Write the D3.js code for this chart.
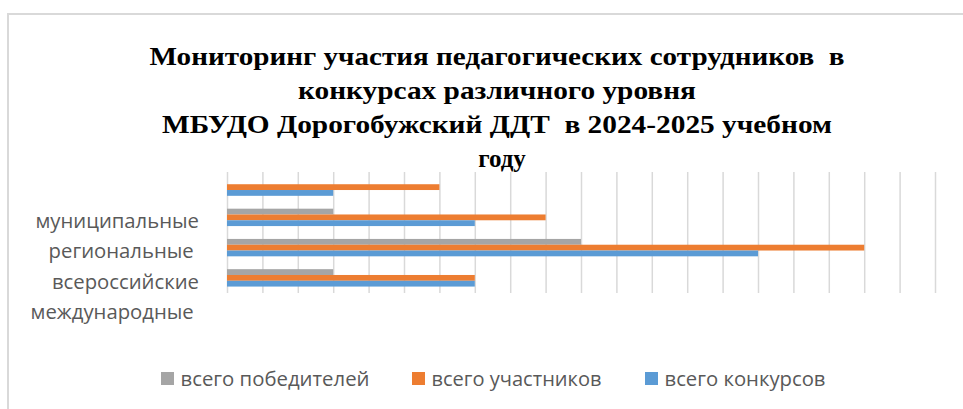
<!DOCTYPE html>
<html><head><meta charset="utf-8">
<script src="https://cdn.jsdelivr.net/npm/d3@7/dist/d3.min.js"></script>
<style>body{margin:0;background:#fff}svg{display:block}text{white-space:pre}</style>
</head><body><svg id="c" width="963" height="409"></svg>
<script>
const titleLines = ["Мониторинг участия педагогических сотрудников  в", "конкурсах различного уровня", "МБУДО Дорогобужский ДДТ  в 2024-2025 учебном", "году"];
const categories = ["муниципальные", "региональные ", "всероссийские", "международные "];
const seriesNames = ["всего победителей", "всего участников", "всего конкурсов"];
const winners = [0, 3, 10, 3];
const participants = [6, 9, 18, 7];
const contests = [3, 7, 15, 7];
const xMax = 20;
const seriesColors = ["#A5A5A5", "#ED7D31", "#5B9BD5"];

const series = [winners, participants, contests];
const svg = d3.select("#c");

// chart border
svg.append("rect").attr("x", 8).attr("y", 14).attr("width", 1000).attr("height", 500)
  .attr("fill", "none").attr("stroke", "#D9D9D9").attr("stroke-width", 2);

// title
const titleY = [65, 99, 133, 167];
const titleW = [695, 398, 670, null];
const titleX = [497, 497, 497, 502];
titleLines.forEach((t, i) => {
  const el = svg.append("text").attr("x", titleX[i]).attr("y", titleY[i])
    .attr("text-anchor", "middle")
    .style("font-family", "'Liberation Serif','Times New Roman',serif")
    .style("font-weight", "bold").style("font-size", "25px").attr("fill", "#000").text(t);
  if (titleW[i]) el.attr("textLength", titleW[i]).attr("lengthAdjust", "spacingAndGlyphs");
});

const x = d3.scaleLinear().domain([0, xMax]).range([227, 935]);
const y = d3.scaleBand().domain(categories).range([172, 293]).paddingInner(0.425).paddingOuter(0.2125);
const ySub = d3.scaleBand().domain(seriesNames).range([0, y.bandwidth()]);

// gridlines
const grid = svg.append("g").attr("transform", "translate(0,293)")
  .call(d3.axisBottom(x).ticks(xMax).tickSize(-121).tickFormat(""));
grid.select(".domain").remove();
grid.selectAll("line").attr("stroke", "#D9D9D9").attr("stroke-width", 1.5);

// bars
seriesNames.forEach((s, si) => {
  svg.append("g").selectAll("rect").data(categories).join("rect")
    .attr("x", x(0))
    .attr("y", (c) => y(c) + ySub(s))
    .attr("width", (c, i) => x(series[si][i]) - x(0))
    .attr("height", ySub.bandwidth())
    .attr("fill", seriesColors[si]);
});

// category labels (as drawn in the reference: shifted one band down)
svg.append("g").selectAll("text").data(categories).join("text")
  .attr("x", 199)
  .attr("y", (c) => y(c) + y.bandwidth() / 2 + y.step() + 10.8)
  .attr("text-anchor", "end")
  .style("font-family", "'Open Sans',sans-serif").style("font-size", "20.3px")
  .attr("fill", "#595959").text((c) => c);

// legend
const legX = [161, 412, 645];
const legTextW = [189, 170, 161];
seriesNames.forEach((s, i) => {
  svg.append("rect").attr("x", legX[i]).attr("y", 372).attr("width", 13).attr("height", 13).attr("fill", seriesColors[i]);
  svg.append("text").attr("x", legX[i] + 19.5).attr("y", 386)
    .style("font-family", "'Open Sans',sans-serif").style("font-size", "20px")
    .attr("fill", "#595959").attr("textLength", legTextW[i]).attr("lengthAdjust", "spacingAndGlyphs").text(s);
});
</script></body></html>
